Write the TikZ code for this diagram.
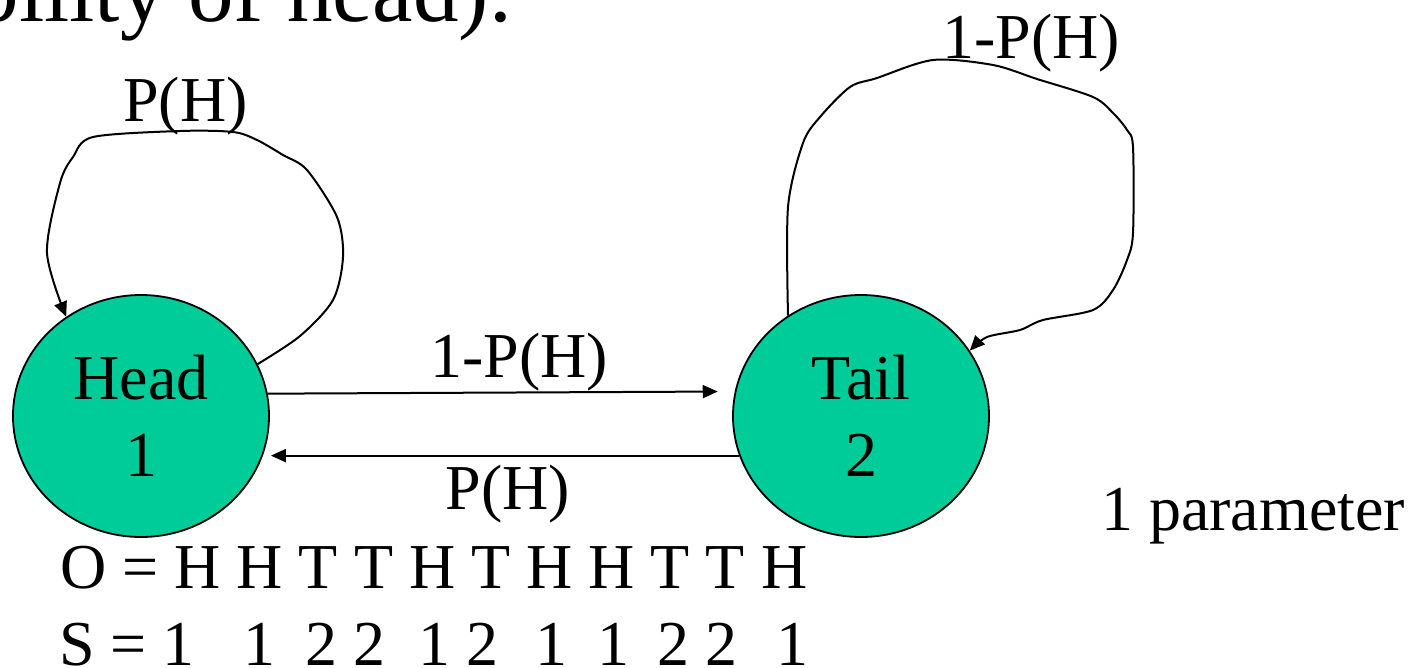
\documentclass[tikz,border=0pt]{standalone}
\usepackage{fontspec}
\setmainfont{Liberation Serif}
\usetikzlibrary{shapes.geometric,arrows.meta}
\definecolor{stategreen}{HTML}{00CC99}
\tikzset{
  state/.style={ellipse, draw=black, line width=1.8pt, fill=stategreen,
    minimum width=256pt, minimum height=242pt, inner sep=0pt, align=center},
  lbl/.style={inner sep=0pt, anchor=base},
  conn/.style={line width=2pt, -{Triangle[length=15pt,width=13pt]}},
  loop/.style={line width=2pt, -{Triangle[length=15pt,width=13pt]}}
}
\begin{document}
\begin{tikzpicture}[x=1pt, y=-1pt, font=\fontsize{64}{77}\selectfont]
\useasboundingbox (0,0) rectangle (1420,667);
% top clipped text
\node[inner sep=0pt, anchor=base east, font=\fontsize{91}{100}\selectfont] (toptext) at (512,21) {ability of head).};
% states
\node[state] (head) at (141,416) {Head\\1};
\node[state] (tail) at (861,416) {Tail\\2};
% transitions between states
\draw[conn, shorten >=17pt] (head.10.8) -- (tail.169.2);
\draw[conn, shorten >=8pt] (tail.198.3) -- (head.-18.3);
% self loops
\draw[loop] plot[smooth, tension=0.5] coordinates {(head.24) (300,336) (333,300) (343,257) (337,217) (307,170) (283,155) (257,140) (233,132) (180,131) (93,137) (73,157) (60,183) (47,253) (head.127)};
\draw[loop] plot[smooth, tension=0.5] coordinates {(tail.126) (788,207) (803,143) (820,117) (850,87) (877,78) (933,60) (993,65) (1037,79) (1093,97) (1113,113) (1127,130) (1133,147) (1133,233) (1127,260) (1113,290) (1093,310) (1043,320) (1020,330) (987,337) (tail.31)};
% labels
\node[lbl] (lphh) at (185.5,121) {P(H)};
\node[lbl] (lptt) at (1031,58) {1-P(H)};
\node[lbl] (lpht) at (519,377) {1-P(H)};
\node[lbl] (lpth) at (508,509) {P(H)};
\node[inner sep=0pt, anchor=base west] (param) at (1101,530) {1 parameter};
\node[inner sep=0pt, anchor=base west] (orow) at (60,588) {O = H H T T H T H H T T H};
\node[inner sep=0pt, anchor=base west] (srow) at (59,665) {S = 1\hspace{49pt}1\hspace{30pt}2 2\hspace{33pt}1 2\hspace{37pt}1\hspace{30pt}1\hspace{28pt}2 2\hspace{39pt}1};
\end{tikzpicture}
\end{document}
